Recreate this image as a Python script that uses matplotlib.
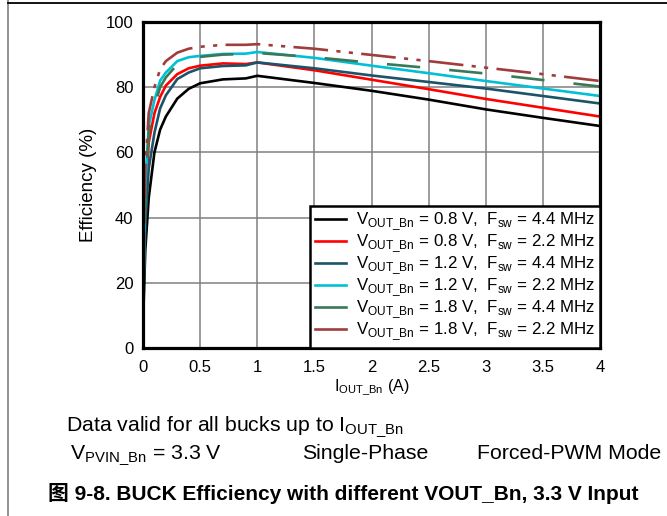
import matplotlib
matplotlib.use('Agg')
import matplotlib.pyplot as plt
from matplotlib.lines import Line2D

plt.rcParams['font.family'] = ['Liberation Sans', 'Noto Sans CJK SC', 'DejaVu Sans']
plt.rcParams['mathtext.fontset'] = 'custom'
plt.rcParams['mathtext.rm'] = 'Liberation Sans'
plt.rcParams['lines.scale_dashes'] = False

########################################################################  data

iout = [0.005, 0.02, 0.05, 0.1, 0.15, 0.2, 0.3, 0.4, 0.5, 0.7, 0.9, 1.0,
        1.5, 2.0, 2.5, 3.0, 3.5, 4.0]

eff_08_44 = [13, 30, 46, 60, 67, 71, 76.5, 79.5, 81.2, 82.4, 82.7, 83.5,
             81.3, 78.9, 76.2, 73.2, 70.6, 68.1]
eff_08_22 = [20, 45, 63, 72, 77, 80.5, 84, 85.8, 86.6, 87.3, 87.1, 87.6,
             85.2, 82.3, 79.4, 76.4, 73.7, 71.0]
eff_12_44 = [15, 38, 55, 66, 73.5, 77.5, 82.5, 84.5, 85.8, 86.5, 86.7, 87.6,
             85.8, 83.6, 81.6, 79.6, 77.3, 75.0]
eff_12_22 = [22, 50, 68, 76, 82, 84.5, 88, 89.2, 89.6, 90.2, 90.3, 90.8,
             89.0, 86.6, 84.3, 81.9, 79.6, 77.3]
eff_18_44 = [20, 47, 66, 74, 80, 83, 87, 88.6, 89.3, 90.0, 90.2, 90.5,
             89.2, 87.5, 85.9, 84.2, 82.2, 80.2]
eff_18_22 = [25, 55, 72, 80, 85.5, 88, 90.6, 91.8, 92.4, 93.0, 93.0, 93.2,
             91.8, 89.9, 88.0, 86.0, 84.0, 81.9]

vout = ['0.8', '0.8', '1.2', '1.2', '1.8', '1.8']
fsw = ['4.4', '2.2', '4.4', '2.2', '4.4', '2.2']

x_ticks = [0, 0.5, 1, 1.5, 2, 2.5, 3, 3.5, 4]
x_ticklabels = ['0', '0.5', '1', '1.5', '2', '2.5', '3', '3.5', '4']
y_ticks = [0, 20, 40, 60, 80, 100]

########################################################################  styles

series = [eff_08_44, eff_08_22, eff_12_44, eff_12_22, eff_18_44, eff_18_22]
colors = ['#000000', '#ff0000', '#1b5468', '#00c0d6', '#3a7858', '#a03c3c']
dashes = [None, None, None, None, (24, 21), (25, 6, 3, 6, 3, 6)]

fig = plt.figure(figsize=(6.67, 5.16), dpi=100)
ax = fig.add_axes([143/667, 1 - 348/516, (600-143)/667, (348-22)/516])

for y, c, d in zip(series, colors, dashes):
    line, = ax.plot(iout, y, color=c, lw=1.9, solid_capstyle='butt')
    if d is not None:
        line.set_dashes(d)

ax.set_xlim(0, 4)
ax.set_ylim(0, 100)
ax.set_xticks(x_ticks)
ax.set_xticklabels(x_ticklabels)
ax.set_yticks(y_ticks)
ax.tick_params(length=0, labelsize=12, pad=7)
ax.tick_params(axis='x', pad=9)
ax.grid(True, color='#808080', lw=1.1)
ax.set_axisbelow(True)
for s in ax.spines.values():
    s.set_linewidth(2.3)
    s.set_color('black')

ax.set_xlabel(r'I$_{\mathregular{OUT\_Bn}}$ (A)', fontsize=11.5, labelpad=1)
ax.set_ylabel('Efficiency (%)', fontsize=13.5, labelpad=6)

labels = [r'V$_{\mathregular{OUT\_Bn}}$ = %s V,  F$_{\mathregular{sw}}$ = %s MHz' % (v, f)
          for v, f in zip(vout, fsw)]
handles = [Line2D([], [], color=c, lw=1.9) for c in colors]
leg = ax.legend(handles, labels, loc='lower right', bbox_to_anchor=(1.0, 0.0),
                fontsize=12.2, frameon=True, fancybox=False, handlelength=1.8,
                handletextpad=0.6, labelspacing=0.0, borderpad=0.3,
                borderaxespad=0.0)
leg.get_frame().set_edgecolor('black')
leg.get_frame().set_linewidth(1.8)
leg.get_frame().set_alpha(1)

########################################################################  notes

fs_note = 15.3
fig.text(66/667, 1 - 431/516, r'Data valid for all bucks up to I$_{\mathregular{OUT\_Bn}}$',
         fontsize=fs_note, va='baseline', ha='left')
fig.text(70/667, 1 - 459/516, r'V$_{\mathregular{PVIN\_Bn}}$ = 3.3 V',
         fontsize=fs_note, va='baseline', ha='left')
fig.text(302/667, 1 - 459/516, 'Single-Phase', fontsize=fs_note, va='baseline', ha='left')
fig.text(477/667, 1 - 459/516, 'Forced-PWM Mode', fontsize=fs_note, va='baseline', ha='left')
fig.text(48/667, 1 - 494/516, '图 9-8. BUCK Efficiency with different VOUT_Bn, 3.3 V Input',
         fontsize=15, fontweight='bold', va='center', ha='left')

fig.add_artist(Line2D([8/667, 8/667], [0, 1], transform=fig.transFigure,
                      color='#808080', lw=1.2))
fig.add_artist(Line2D([8/667, 1], [1 - 3/516, 1 - 3/516], transform=fig.transFigure,
                      color='black', lw=1.3))

fig.savefig('out.png', dpi=100)
